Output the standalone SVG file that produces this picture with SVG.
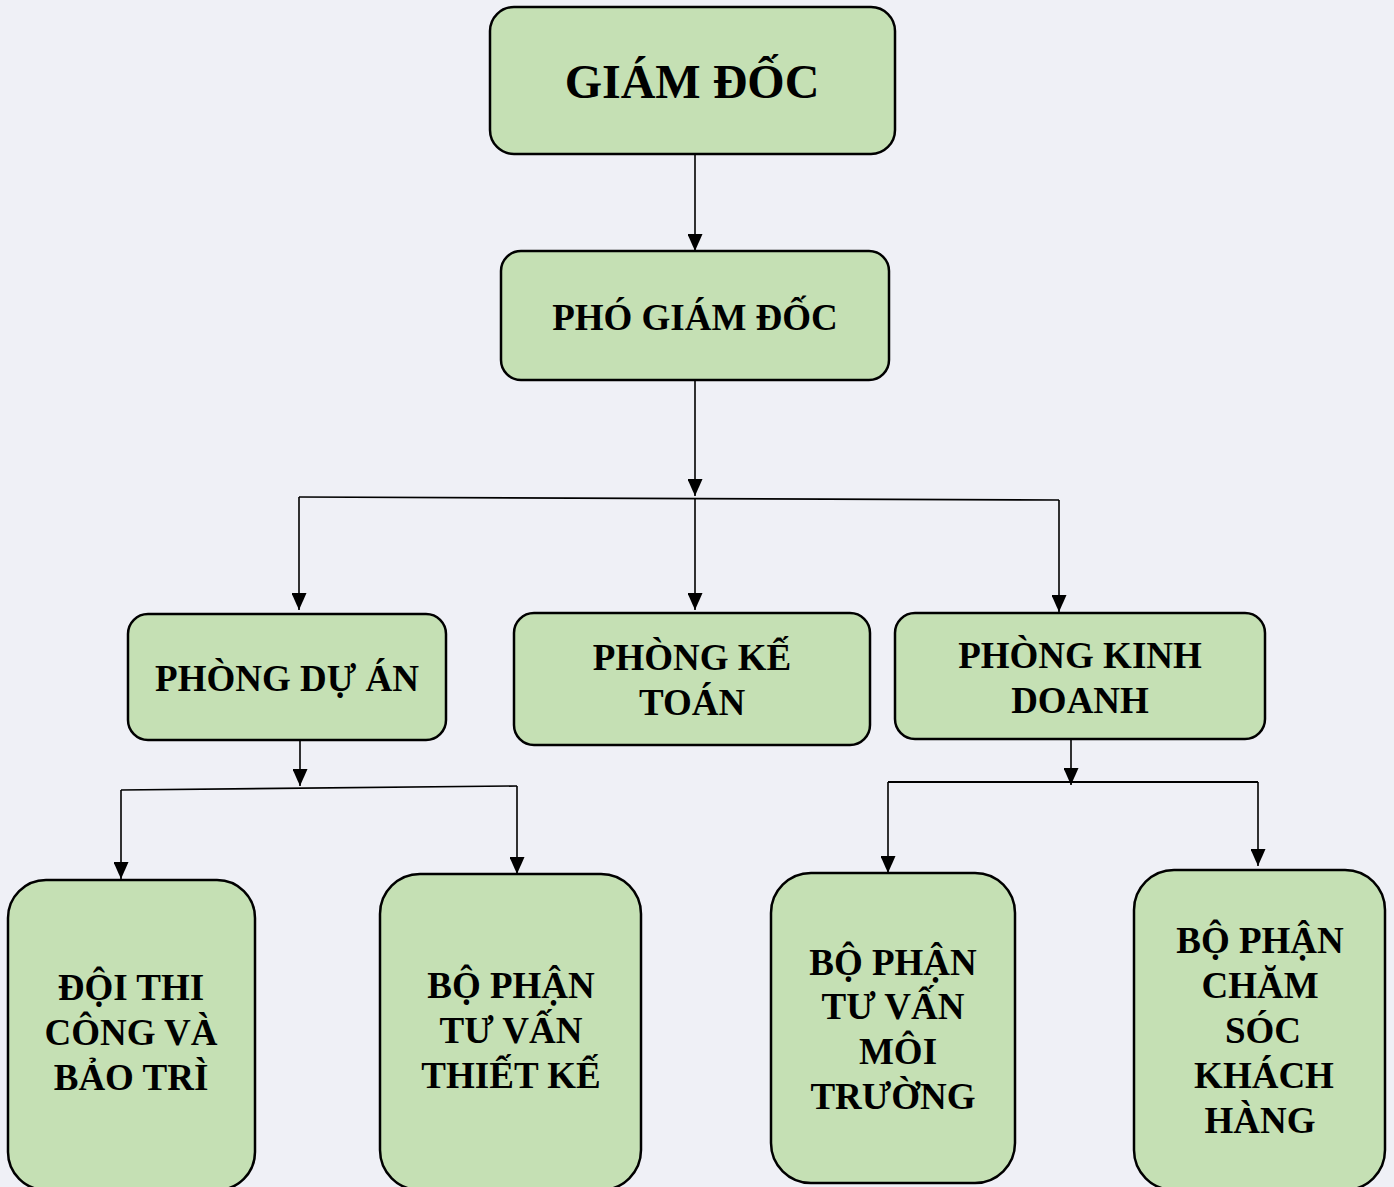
<svg xmlns="http://www.w3.org/2000/svg" width="1394" height="1187" viewBox="0 0 1394 1187">
<defs>
<marker id="arr" markerUnits="userSpaceOnUse" markerWidth="17" markerHeight="15" refX="17" refY="7.5" orient="auto" viewBox="0 0 17 15">
<path d="M0,0 L17,7.5 L0,15 z" fill="#000"/>
</marker>
<style>
.box{fill:#c5e0b4;stroke:#000;stroke-width:2.5}
.t{font-family:'Liberation Serif','Times New Roman','DejaVu Serif',serif;font-weight:700;font-size:37px;fill:#000;text-anchor:middle}
.big{font-size:48px}
.c{fill:none;stroke:#000;stroke-width:1.6}
.a{marker-end:url(#arr)}
</style>
</defs>
<rect x="0" y="0" width="1394" height="1187" fill="#eff0f6"/>
<g id="connectors">
<path class="c a" d="M695,154 V251"/>
<path class="c a" d="M695,380 V496"/>
<path class="c" d="M299,497 L1059,500"/>
<path class="c a" d="M299,497 V610"/>
<path class="c a" d="M695,498.5 V610"/>
<path class="c a" d="M1059,500 V612"/>
<path class="c a" d="M300,740 V786"/>
<path class="c" d="M121,790 L517,786"/>
<path class="c a" d="M121,790 V879"/>
<path class="c a" d="M517,786 V874"/>
<path class="c a" d="M1071,739 V785"/>
<path class="c" d="M888,782 H1258" style="stroke-width:2.2"/>
<path class="c a" d="M888,782 V873"/>
<path class="c a" d="M1258,782 V866"/>
</g>
<g id="giam-doc">
<rect class="box" x="490" y="7" width="405" height="147" rx="24"/>
<text class="t big" x="692" y="98" font-family="Liberation Serif, serif">GIÁM ĐỐC</text>
</g>
<g id="pho-giam-doc">
<rect class="box" x="501" y="251" width="388" height="129" rx="20"/>
<text class="t" x="695" y="330">PHÓ GIÁM ĐỐC</text>
</g>
<g id="phong-du-an">
<rect class="box" x="128" y="614" width="318" height="126" rx="20"/>
<text class="t" x="287" y="691">PHÒNG DỰ ÁN</text>
</g>
<g id="phong-ke-toan">
<rect class="box" x="514" y="613" width="356" height="132" rx="20"/>
<text class="t" x="692" y="670">PHÒNG KẾ</text>
<text class="t" x="692" y="715">TOÁN</text>
</g>
<g id="phong-kinh-doanh">
<rect class="box" x="895" y="613" width="370" height="126" rx="20"/>
<text class="t" x="1080" y="668">PHÒNG KINH</text>
<text class="t" x="1080" y="713">DOANH</text>
</g>
<g id="doi-thi-cong">
<rect class="box" x="8" y="880" width="247" height="310" rx="38"/>
<text class="t" x="131" y="1000">ĐỘI THI</text>
<text class="t" x="131" y="1045">CÔNG VÀ</text>
<text class="t" x="131" y="1090">BẢO TRÌ</text>
</g>
<g id="tu-van-thiet-ke">
<rect class="box" x="380" y="874" width="261" height="316" rx="40"/>
<text class="t" x="511" y="998">BỘ PHẬN</text>
<text class="t" x="511" y="1043">TƯ VẤN</text>
<text class="t" x="511" y="1088">THIẾT KẾ</text>
</g>
<g id="tu-van-moi-truong">
<rect class="box" x="771" y="873" width="244" height="310" rx="40"/>
<text class="t" x="893" y="975">BỘ PHẬN</text>
<text class="t" x="893" y="1019">TƯ VẤN</text>
<text class="t" x="898" y="1064">MÔI</text>
<text class="t" x="893" y="1109">TRƯỜNG</text>
</g>
<g id="cham-soc-khach-hang">
<rect class="box" x="1134" y="870" width="251" height="320" rx="40"/>
<text class="t" x="1260" y="953">BỘ PHẬN</text>
<text class="t" x="1260" y="998">CHĂM</text>
<text class="t" x="1263" y="1043">SÓC</text>
<text class="t" x="1264" y="1088">KHÁCH</text>
<text class="t" x="1260" y="1133">HÀNG</text>
</g>
</svg>
